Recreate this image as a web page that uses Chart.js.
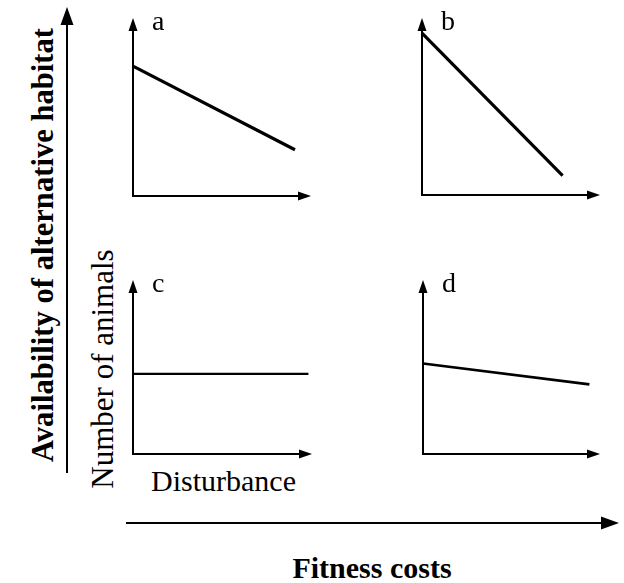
<!DOCTYPE html>
<html>
<head>
<meta charset="utf-8">
<script src="https://cdn.jsdelivr.net/npm/chart.js@4.4.1/dist/chart.umd.min.js"></script>
<style>
  html, body { margin: 0; padding: 0; background: #fff; }
  #page { position: relative; width: 624px; height: 583px; overflow: hidden; }
  canvas { position: absolute; }
  svg { position: absolute; left: 0; top: 0; }
  text { font-family: "Liberation Serif", "Times New Roman", serif; fill: #000; }
</style>
</head>
<body>
<div id="page">
  <svg width="624" height="583">
    <!-- eixo grande vertical -->
    <line x1="67" y1="22" x2="67" y2="473" stroke="#000" stroke-width="2"/>
    <polygon points="67,7 60.5,25 73.5,25" fill="#000"/>
    <!-- eixo grande horizontal -->
    <line x1="126" y1="523" x2="604" y2="523" stroke="#000" stroke-width="2"/>
    <polygon points="619,523 601,516.5 601,529.5" fill="#000"/>

    <text transform="translate(53,245) rotate(-90)" text-anchor="middle" font-size="30.5" font-weight="bold" textLength="434" lengthAdjust="spacing">Availability of alternative habitat</text>
    <text transform="translate(113,369) rotate(-90)" text-anchor="middle" font-size="31">Number of animals</text>
    <text x="151" y="491" font-size="30">Disturbance</text>
    <text x="372" y="578" text-anchor="middle" font-size="30" font-weight="bold">Fitness costs</text>
  </svg>
  <canvas id="chartA"></canvas>
  <canvas id="chartB"></canvas>
  <canvas id="chartC"></canvas>
  <canvas id="chartD"></canvas>
</div>
<script>
// Dados de cada painel (escala 0-10 nos dois eixos)
const panelLetters = ["a", "b", "c", "d"];
const aX = [0, 9.1];
const aY = [7.3, 2.6];
const bX = [0, 7.9];
const bY = [9.15, 1.1];
const cX = [0, 9.8];
const cY = [4.6, 4.6];
const dX = [0, 9.4];
const dY = [5.2, 4.0];

// Posição da área do gráfico na página: [esquerda, topo, largura, altura]
const PAD = 12;
const boxes = [
  [133, 18, 178, 178],
  [422, 18, 178, 177],
  [133, 280, 179, 174],
  [423, 280, 177, 174],
];
const lineWidths = [3.2, 3.2, 2.2, 2.6];

// Desenha os eixos com setas e a letra do painel
const arrowAxes = {
  id: "arrowAxes",
  afterDatasetsDraw(chart, args, opts) {
    const { ctx, chartArea } = chart;
    const { left, right, top, bottom } = chartArea;
    ctx.save();
    ctx.strokeStyle = "#000";
    ctx.fillStyle = "#000";
    ctx.lineWidth = 2;
    ctx.beginPath();
    ctx.moveTo(left, top + 10);
    ctx.lineTo(left, bottom);
    ctx.lineTo(right - 10, bottom);
    ctx.stroke();

    ctx.beginPath();
    ctx.moveTo(left, top);
    ctx.lineTo(left - 4.5, top + 13);
    ctx.lineTo(left + 4.5, top + 13);
    ctx.closePath();
    ctx.fill();

    ctx.beginPath();
    ctx.moveTo(right, bottom);
    ctx.lineTo(right - 13, bottom - 4.5);
    ctx.lineTo(right - 13, bottom + 4.5);
    ctx.closePath();
    ctx.fill();

    ctx.font = '28px "Liberation Serif", "Times New Roman", serif';
    ctx.textBaseline = "alphabetic";
    ctx.fillText(opts.letter, left + 19, top + 12);
    ctx.restore();
  },
};

function makePanel(id, idx, xs, ys) {
  const [left, top, w, h] = boxes[idx];
  const canvas = document.getElementById(id);
  canvas.width = w + PAD * 2;
  canvas.height = h + PAD * 2;
  canvas.style.left = left - PAD + "px";
  canvas.style.top = top - PAD + "px";

  const pontos = xs.map((x, i) => ({ x: x, y: ys[i] }));

  return new Chart(canvas, {
    type: "line",
    data: {
      datasets: [
        {
          data: pontos,
          borderColor: "#000",
          borderWidth: lineWidths[idx],
          pointRadius: 0,
          tension: 0,
          clip: false,
        },
      ],
    },
    options: {
      responsive: false,
      animation: false,
      layout: { padding: PAD },
      scales: {
        x: { type: "linear", min: 0, max: 10, display: false },
        y: { type: "linear", min: 0, max: 10, display: false },
      },
      plugins: {
        legend: { display: false },
        tooltip: { enabled: false },
        arrowAxes: { letter: panelLetters[idx] },
      },
    },
    plugins: [arrowAxes],
  });
}

makePanel("chartA", 0, aX, aY);
makePanel("chartB", 1, bX, bY);
makePanel("chartC", 2, cX, cY);
makePanel("chartD", 3, dX, dY);
</script>
</body>
</html>
